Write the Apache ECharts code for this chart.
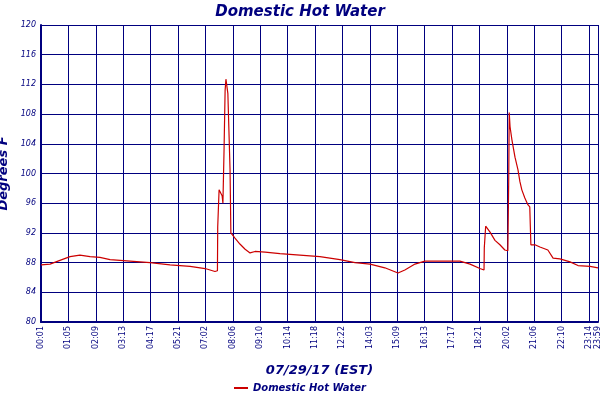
<!DOCTYPE html>
<html><head><meta charset="utf-8">
<script src="https://cdn.jsdelivr.net/npm/echarts@6/dist/echarts.min.js"></script>
<style>html,body{margin:0;padding:0;background:#fff}#c{width:600px;height:400px}</style>
</head><body><div id="c"></div>
<script>
const tickLabels = ['00:01','01:05','02:09','03:13','04:17','05:21','07:02','08:06','09:10','10:14','11:18','12:22','14:03','15:09','16:13','17:17','18:21','20:02','21:06','22:10','23:14'];
const endLabel = '23:59';
const sampleIndex = [0,3.3,6.9,10.6,14.2,17.9,21.5,25.2,32.5,39.8,47.1,54.4,59.9,63.5,64.4,64.5,65.0,66.1,66.4,66.8,67.2,67.5,67.9,68.2,69.0,69.3,70.8,72.6,74.5,76.3,78.1,81.8,87.2,94.5,101.8,109.1,114.6,120.1,125.5,130.3,132.8,136.5,140.1,145.6,152.9,156.6,160.2,161.7,161.8,162.3,163.9,165.7,167.5,169.3,170.4,170.7,170.9,171.2,171.9,173.0,174.1,174.8,175.5,176.6,177.7,178.4,178.6,178.8,180.3,182.1,185.0,186.9,189.4,193.1,196.0,200.4,203.3];
const temps = [87.7,87.8,88.3,88.8,89.0,88.8,88.7,88.4,88.2,88.0,87.7,87.5,87.2,86.8,86.9,92.8,97.8,97.0,96.0,103.0,111.2,112.7,112.5,110.8,100.5,92.0,91.3,90.5,89.8,89.3,89.5,89.4,89.2,89.0,88.8,88.4,88.0,87.8,87.3,86.6,87.0,87.8,88.2,88.2,88.2,87.8,87.2,87.0,90.0,92.9,92.1,91.0,90.4,89.7,89.6,98.9,108.2,106.3,104.5,102.2,100.5,98.9,97.8,96.7,95.8,95.5,92.9,90.4,90.4,90.1,89.7,88.6,88.5,88.1,87.6,87.5,87.3];
const navy = '#00007f';
const chart = echarts.init(document.getElementById('c'));
chart.setOption({
  animation:false,
  title:{text:'Domestic Hot Water',left:'center',top:0,textStyle:{color:navy,fontSize:15,fontStyle:'italic',fontWeight:'bold',fontFamily:'DejaVu Sans'}},
  legend:{bottom:2,left:'center',itemWidth:14,itemHeight:2,icon:'rect',textStyle:{color:navy,fontSize:10,fontStyle:'italic',fontWeight:'bold',fontFamily:'DejaVu Sans'}},
  grid:{left:41,right:2,top:25,bottom:78,containLabel:false,outerBoundsMode:'none'},
  xAxis:{type:'value',min:0,max:203.3,interval:10,
    name:'07/29/17 (EST)',nameLocation:'middle',nameGap:42,
    nameTextStyle:{color:navy,fontSize:13,fontStyle:'italic',fontWeight:'bold',fontFamily:'DejaVu Sans'},
    axisLine:{lineStyle:{color:navy,width:2}},axisTick:{show:false},
    axisLabel:{rotate:90,color:navy,fontSize:8,fontFamily:'DejaVu Sans',showMaxLabel:true,showMinLabel:true,margin:4,
      formatter:v=>{const k=Math.round(v/10);return Math.abs(v-k*10)<0.01?tickLabels[k]:endLabel;}},
    splitLine:{show:true,lineStyle:{color:navy,width:1}}},
  yAxis:{type:'value',min:80,max:120,interval:4,
    name:'Degrees F',nameLocation:'middle',nameGap:26,
    nameTextStyle:{color:navy,fontSize:13,fontStyle:'italic',fontWeight:'bold',fontFamily:'DejaVu Sans'},
    axisLine:{show:true,lineStyle:{color:navy,width:2}},axisTick:{show:false},
    axisLabel:{color:navy,fontSize:8,fontStyle:'italic',fontFamily:'DejaVu Sans',margin:5},
    splitLine:{lineStyle:{color:navy,width:1}}},
  series:[{name:'Domestic Hot Water',type:'line',symbol:'none',
    data:sampleIndex.map((x,i)=>[x,temps[i]]),
    lineStyle:{color:'#cc0000',width:1.2},itemStyle:{color:'#cc0000'}}]
});
</script></body></html>
